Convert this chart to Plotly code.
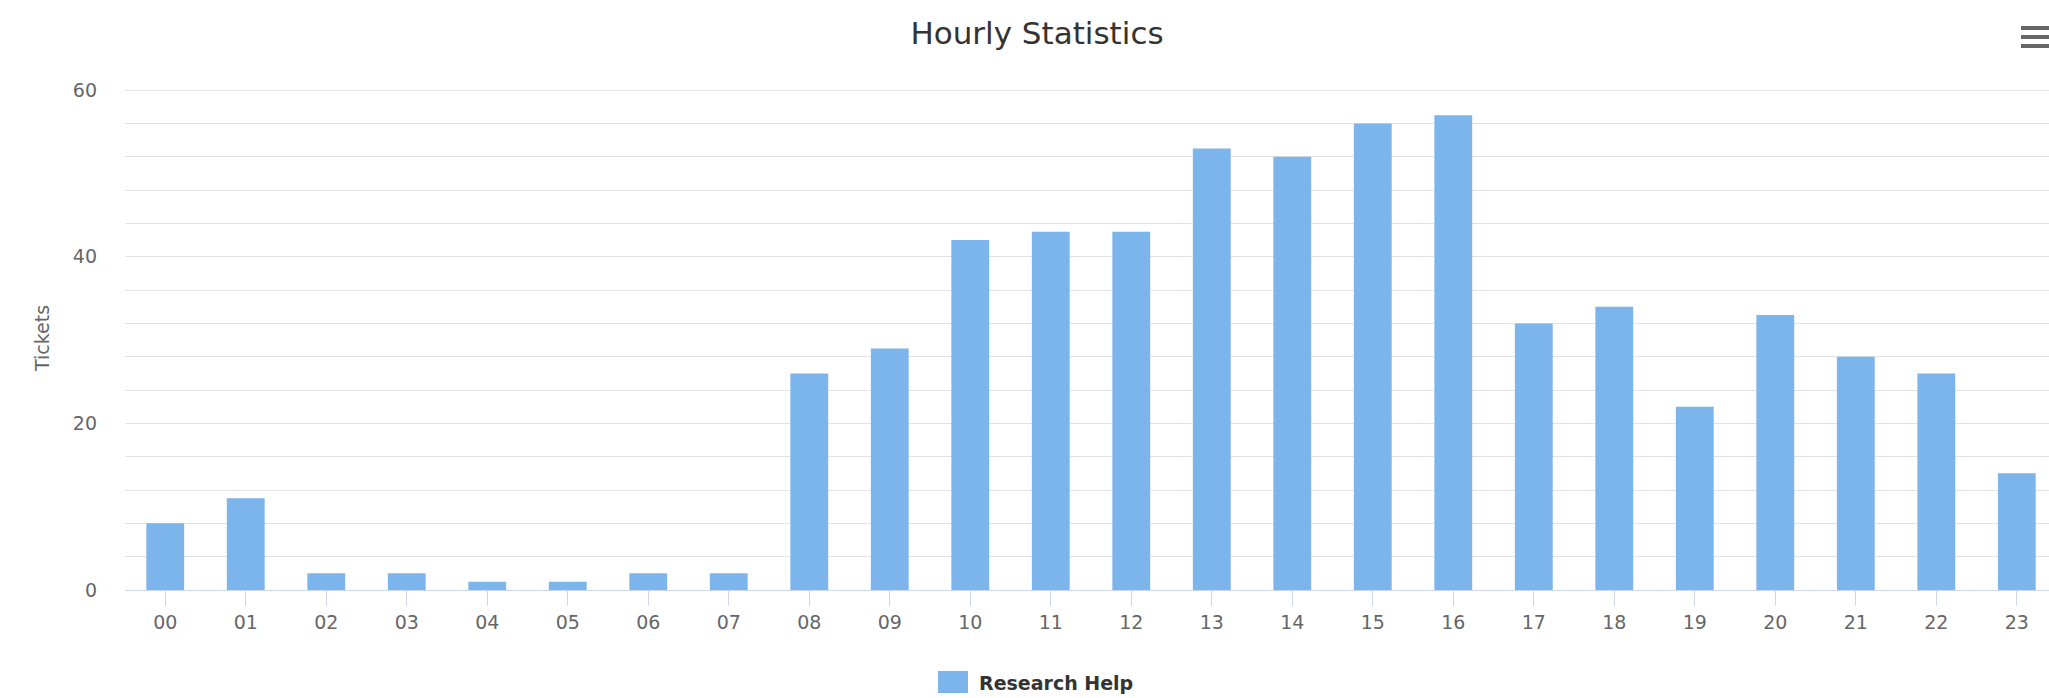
import plotly.graph_objects as go

# Hourly ticket counts for the Research Help queue
hours = ["00", "01", "02", "03", "04", "05", "06", "07", "08", "09", "10", "11",
         "12", "13", "14", "15", "16", "17", "18", "19", "20", "21", "22", "23"]
tickets = [8, 11, 2, 2, 1, 1, 2, 2, 26, 29, 42, 43,
           43, 53, 52, 56, 57, 32, 34, 22, 33, 28, 26, 14]
series_name = "Research Help"
y_ticks = [0, 20, 40, 60]

W, H = 2049, 698
L, R, T, B = 125, 0, 86, 108
FONT = "DejaVu Sans"
BAR_COLOR = "#7cb5ec"

fig = go.Figure()
fig.add_trace(go.Bar(
    x=list(range(len(hours))),
    y=tickets,
    name=series_name,
    marker=dict(color=BAR_COLOR, line=dict(width=0)),
    width=0.47,
    showlegend=False,
))

fig.update_layout(
    width=W, height=H,
    margin=dict(l=L, r=R, t=T, b=B, pad=0),
    paper_bgcolor="white",
    plot_bgcolor="white",
    font=dict(family=FONT, color="#666666"),
    title=dict(
        text="Hourly Statistics",
        font=dict(family=FONT, size=31, color="#333333"),
        x=1037 / W, xanchor="center",
        xref="container",
        y=1 - 33 / H, yanchor="middle", yref="container",
    ),
    xaxis=dict(
        tickmode="array",
        tickvals=list(range(len(hours))),
        ticktext=hours,
        range=[-0.5, 23.4],
        showgrid=False,
        showline=True, linecolor="#ccd6eb", linewidth=1,
        ticks="outside", tickson="boundaries",
        ticklen=15, tickcolor="#ccd6eb", tickwidth=1,
        tickfont=dict(size=19, color="#666666"),
        zeroline=False,
    ),
    yaxis=dict(
        # headroom above 60 so the top grid line is drawn
        range=[0, 60.5],
        tickmode="array", tickvals=y_ticks,
        showgrid=True, gridcolor="#e3e3e3", gridwidth=1,
        minor=dict(dtick=4, showgrid=True, gridcolor="#e3e3e3", gridwidth=1),
        zeroline=False,
        showline=False,
        ticks="",
        ticklabelstandoff=27,
        tickfont=dict(size=19, color="#666666"),
        title=dict(text="Tickets", font=dict(size=19, color="#666666"), standoff=18),
    ),
    bargap=0.53,
)

PW, PH = W - L - R, H - T - B

# Legend entry
fig.add_shape(type="rect", xref="paper", yref="paper",
              x0=(938 - L) / PW, x1=(968 - L) / PW,
              y0=(H - B - 693) / PH, y1=(H - B - 671) / PH,
              fillcolor=BAR_COLOR, line=dict(width=0))
fig.add_annotation(xref="paper", yref="paper",
                   x=(977 - L) / PW, xanchor="left",
                   y=(H - B - 683) / PH, yanchor="middle",
                   text="<b>" + series_name + "</b>", showarrow=False,
                   font=dict(family=FONT, size=19, color="#333333"))

# Context menu icon (three bars) in the top-right corner
for py in (28, 37, 46):
    fig.add_shape(type="line", xref="paper", yref="paper",
                  x0=(2021 - L) / PW, x1=(2060 - L) / PW,
                  y0=(H - B - py) / PH, y1=(H - B - py) / PH,
                  line=dict(color="#666666", width=4))

fig.write_html("out.html")
